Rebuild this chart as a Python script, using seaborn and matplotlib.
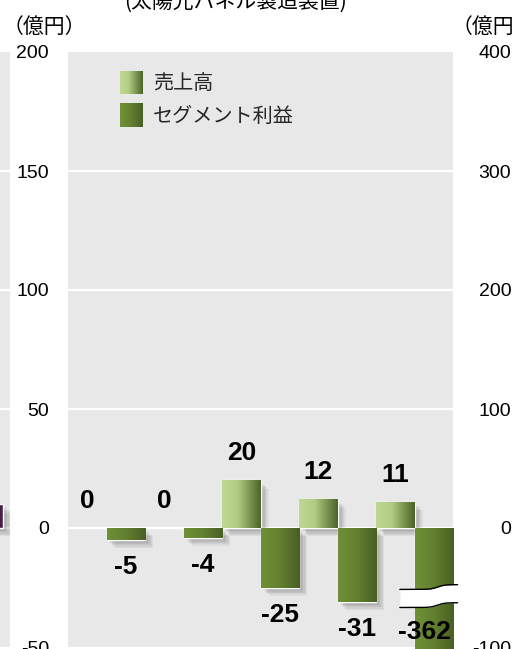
import numpy as np
import pandas as pd
import matplotlib
matplotlib.use("Agg")
import matplotlib.pyplot as plt
import seaborn as sns
import matplotlib.patheffects as pe
from matplotlib.colors import LinearSegmentedColormap
from matplotlib.patches import Rectangle
from matplotlib.legend_handler import HandlerBase

# ---- data -------------------------------------------------------------
periods = ["P1", "P2", "P3", "P4", "P5"]
sales = [0, 0, 20, 12, 11]
segment_profit = [-5, -4, -25, -31, -362]
series_names = ["売上高", "セグメント利益"]
left_ticks = [-50, 0, 50, 100, 150, 200]
right_ticks = [-100, 0, 100, 200, 300, 400]
neighbour_value = [10]
title_text = "(太陽光パネル製造装置)"
unit_text = "（億円）"

W, H, DPI = 512, 649, 100

sns.set_theme(style="white")
plt.rcParams["font.family"] = ["Liberation Sans", "Noto Sans CJK JP", "DejaVu Sans"]
CJK = ["Noto Sans CJK JP", "DejaVu Sans"]

df = pd.DataFrame({
    "period": periods * 2,
    "series": [series_names[0]] * len(periods) + [series_names[1]] * len(periods),
    "value": sales + segment_profit,
})

sales_cmap = LinearSegmentedColormap.from_list(
    "sales", [(0, "#c0d892"), (0.4, "#b2cc83"), (1, "#4b6427")])
profit_cmap = LinearSegmentedColormap.from_list(
    "profit", [(0, "#6f9137"), (0.5, "#627f30"), (1, "#495f24")])

fig = plt.figure(figsize=(W / DPI, H / DPI), dpi=DPI)
fig.patch.set_facecolor("white")


def px_axes(x0, y0, x1, y1):
    """Axes from a pixel box measured from the top-left corner."""
    return fig.add_axes([x0 / W, 1 - y1 / H, (x1 - x0) / W, (y1 - y0) / H])


def shadow_effects():
    return [pe.SimplePatchShadow(offset=(k, -k), shadow_rgbFace="black", alpha=0.05)
            for k in (1, 2, 3, 4, 5, 6)] + [pe.Normal()]


GRID = dict(color="white", lw=1.6)
YLO, YHI = left_ticks[0], left_ticks[-1]

# ---- neighbouring panel sliver on the far left -------------------------
axn = px_axes(0, 52, 10, 647)
axn.set_facecolor("#e8e8e8")
nb = axn.bar([0], neighbour_value, width=0.5, color="#4a1e4c", zorder=3)
for p in nb:
    p.set_path_effects(shadow_effects())
axn.set_xlim(0.25 - 3 / 77, 0.25 + 7 / 77)
axn.set_ylim(YLO, YHI)
for t in left_ticks[1:-1]:
    axn.axhline(t, zorder=1, **GRID)
axn.set_xticks([]); axn.set_yticks([])
for s in axn.spines.values():
    s.set_visible(False)

# ---- main panel --------------------------------------------------------
ax = px_axes(68, 52, 453, 647)
ax.set_facecolor("#e8e8e8")
sns.barplot(data=df, x="period", y="value", hue="series", order=periods,
            hue_order=series_names, width=1.0, gap=0, errorbar=None,
            palette=["#a9c47a", "#5f7c2e"], saturation=1, legend=False, ax=ax,
            zorder=3)
ax.set_xlim(-0.5, len(periods) - 0.5)
ax.set_ylim(YLO, YHI)
for t in left_ticks[1:-1]:
    ax.axhline(t, zorder=1, **GRID)

bars = list(ax.patches)
n = len(periods)
for i, patch in enumerate(bars):
    cmap = sales_cmap if i < n else profit_cmap
    x, w, h = patch.get_x(), patch.get_width(), patch.get_height()
    if h != 0:
        patch.set_path_effects(shadow_effects())
        img = ax.imshow(np.linspace(0, 1, 128)[None, :], cmap=cmap, aspect="auto",
                        origin="lower", interpolation="bilinear",
                        extent=[x, x + w, min(0, h), max(0, h)], zorder=3.5)
        img.set_clip_path(patch)
    cx = x + w / 2
    label = f"{h:g}"
    if h >= 0:
        ax.annotate(label, (cx, h), xytext=(0, 19.5), textcoords="offset points",
                    ha="center", va="center", fontsize=19, fontweight="bold",
                    color="black", zorder=8)
    elif h >= YLO:
        ax.annotate(label, (cx, h), xytext=(0, -19.5), textcoords="offset points",
                    ha="center", va="center", fontsize=19, fontweight="bold",
                    color="black", zorder=8)
    else:
        # bar runs off the scale: label sits inside the bottom of the column
        ax.annotate(label, (cx, YLO), xytext=(-7, 11), textcoords="offset points",
                    ha="center", va="center", fontsize=19, fontweight="bold",
                    color="black", zorder=8)
        # scale-break band across the long column
        t = np.linspace(x - 0.19, x + w + 0.06, 300)
        step = 0.5 + 0.5 * np.tanh((t - (x + 0.3)) / 0.09)
        upper = -25.8 + 2.0 * step
        lower = -33.4 + 2.0 * step
        ax.fill_between(t, lower, upper, color="white", zorder=6, clip_on=False, lw=0)
        ax.plot(t, upper, color="black", lw=1.0, zorder=7, clip_on=False)
        ax.plot(t, lower, color="black", lw=1.0, zorder=7, clip_on=False)

ax.set_xlim(-0.5, len(periods) - 0.5)
ax.set_ylim(YLO, YHI)
ax.set_xlabel(""); ax.set_ylabel("")
ax.set_xticks([])
ax.set_yticks(left_ticks)
ax.set_yticklabels([str(v) for v in left_ticks])
ax.tick_params(axis="y", length=0, pad=13.7, labelsize=14, labelcolor="black")
for s in ax.spines.values():
    s.set_visible(False)

# ---- right-hand scale --------------------------------------------------
ax2 = ax.twinx()
ax2.set_ylim(right_ticks[0], right_ticks[-1])
ax2.set_yticks(right_ticks)
ax2.set_yticklabels([str(v) for v in right_ticks])
ax2.tick_params(axis="y", length=0, pad=42, labelsize=14, labelcolor="black")
for lbl in ax2.get_yticklabels():
    lbl.set_horizontalalignment("right")
for s in ax2.spines.values():
    s.set_visible(False)
ax2.grid(False)


# ---- legend with gradient swatches -------------------------------------
class GradientHandler(HandlerBase):
    def __init__(self, cmap, steps=24):
        super().__init__()
        self.cmap = cmap
        self.steps = steps

    def create_artists(self, legend, orig_handle, xdescent, ydescent, width,
                       height, fontsize, trans):
        arts = []
        dx = width / self.steps
        for k in range(self.steps):
            arts.append(Rectangle((-xdescent + k * dx, -ydescent), dx * 1.08, height,
                                  facecolor=self.cmap((k + 0.5) / self.steps),
                                  edgecolor="none", transform=trans))
        return arts


h_sales = Rectangle((0, 0), 1, 1)
h_profit = Rectangle((0, 0), 1, 1)
leg = ax.legend([h_sales, h_profit], series_names,
                handler_map={h_sales: GradientHandler(sales_cmap),
                             h_profit: GradientHandler(profit_cmap)},
                loc="upper left", bbox_to_anchor=(120 / W, 1 - 71 / H),
                bbox_transform=fig.transFigure, frameon=False, borderpad=0,
                borderaxespad=0, handlelength=1.12, handleheight=1.4,
                handletextpad=0.5, labelspacing=0.45,
                prop={"family": CJK, "size": 14.5})
leg.set_zorder(9)

# ---- titles ------------------------------------------------------------
fig.text(236 / W, 1 - 3 / H, title_text, ha="center", va="center",
         fontsize=15, family=CJK, color="black")
fig.text(3 / W, 1 - 27 / H, unit_text, ha="left", va="center",
         fontsize=15, family=CJK, color="black")
fig.text(452 / W, 1 - 27 / H, unit_text, ha="left", va="center",
         fontsize=15, family=CJK, color="black")

fig.savefig("out.png", dpi=DPI, facecolor="white")
